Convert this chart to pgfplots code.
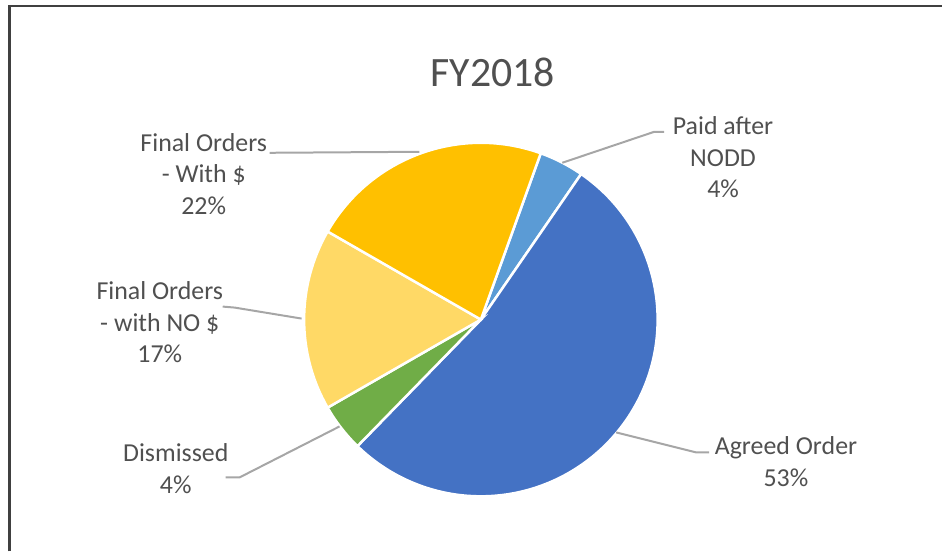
\documentclass[border=0pt]{standalone}
\usepackage{fontspec}
\setmainfont{Carlito}
\usepackage{pgfplots}
\usepackage{pgfplotstable}
\pgfplotsset{compat=1.18}
\definecolor{cPaid}{HTML}{5B9BD5}
\definecolor{cAgreed}{HTML}{4472C4}
\definecolor{cDism}{HTML}{70AD47}
\definecolor{cNo}{HTML}{FFD966}
\definecolor{cWith}{HTML}{FFC000}
\definecolor{txt}{HTML}{505050}
\definecolor{lead}{HTML}{A6A6A6}
\definecolor{frame}{HTML}{404040}
\tikzset{lbl/.style={font=\fontsize{26}{31.7}\selectfont, text=txt, align=center, inner sep=0pt}}
% shares in percent, in clockwise order from the first slice
\pgfplotstableread{
slice share
Paid 4.1
Agreed 52.7
Dismissed 4.4
FinalNo 16.6
FinalWith 22.2
}\piedata
\newcommand\getshare[2]{\pgfplotstablegetelem{#1}{share}\of\piedata\let#2\pgfplotsretval}
\begin{document}
\begin{tikzpicture}
\getshare{0}\sA \getshare{1}\sB \getshare{2}\sC \getshare{3}\sD \getshare{4}\sE
\pgfmathsetmacro\tA{70.2}
\pgfmathsetmacro\tB{\tA-3.6*\sA}
\pgfmathsetmacro\tC{\tB-3.6*\sB}
\pgfmathsetmacro\tD{\tC-3.6*\sC}
\pgfmathsetmacro\tE{\tD-3.6*\sD}
\pgfmathsetmacro\tF{\tE-3.6*\sE}
\begin{axis}[
  scale only axis, width=943bp, height=552bp,
  xmin=0, xmax=943, ymin=0, ymax=552,
  hide axis, clip=false,
]
\path (axis cs:0,0) rectangle (axis cs:943,552);
% frame
\draw[frame, line width=2.5bp] (axis cs:9.5,0) -- (axis cs:9.5,545.8) -- (axis cs:943,545.8);
% slices
\fill[cPaid, draw=white, line width=2.5bp] (axis cs:481.5,232) -- ++(\tA:177bp) arc[start angle=\tA, end angle=\tB, radius=177bp] -- cycle;
\fill[cAgreed, draw=white, line width=2.5bp] (axis cs:481.5,232) -- ++(\tB:177bp) arc[start angle=\tB, end angle=\tC, radius=177bp] -- cycle;
\fill[cDism, draw=white, line width=2.5bp] (axis cs:481.5,232) -- ++(\tC:177bp) arc[start angle=\tC, end angle=\tD, radius=177bp] -- cycle;
\fill[cNo, draw=white, line width=2.5bp] (axis cs:481.5,232) -- ++(\tD:177bp) arc[start angle=\tD, end angle=\tE, radius=177bp] -- cycle;
\fill[cWith, draw=white, line width=2.5bp] (axis cs:481.5,232) -- ++(\tE:177bp) arc[start angle=\tE, end angle=\tF, radius=177bp] -- cycle;
% leader lines
\draw[lead, line width=2bp] (axis cs:563,389) -- (axis cs:655,420) -- (axis cs:665,420);
\draw[lead, line width=2bp] (axis cs:617,119) -- (axis cs:697,99) -- (axis cs:710,99);
\draw[lead, line width=2bp] (axis cs:340,125) -- (axis cs:240,74) -- (axis cs:226,74);
\draw[lead, line width=2bp] (axis cs:302,233) -- (axis cs:235,244) -- (axis cs:223,245);
\draw[lead, line width=2bp] (axis cs:420,400) -- (axis cs:270,399);
% title
\node[font=\fontsize{42}{50}\selectfont, text=txt, inner sep=0pt] at (axis cs:493.5,479.5) {FY2018};
% labels
\node[lbl] at (axis cs:724,394.5) {Paid after\\NODD\\4\%};
\node[lbl] at (axis cs:787,90) {Agreed Order\\53\%};
\node[lbl] at (axis cs:176,83) {Dismissed\\4\%};
\node[lbl] at (axis cs:160,229) {Final Orders\\- with NO \$\\17\%};
\node[lbl] at (axis cs:204,378) {Final Orders\\- With \$\\22\%};
\end{axis}
\end{tikzpicture}
\end{document}
